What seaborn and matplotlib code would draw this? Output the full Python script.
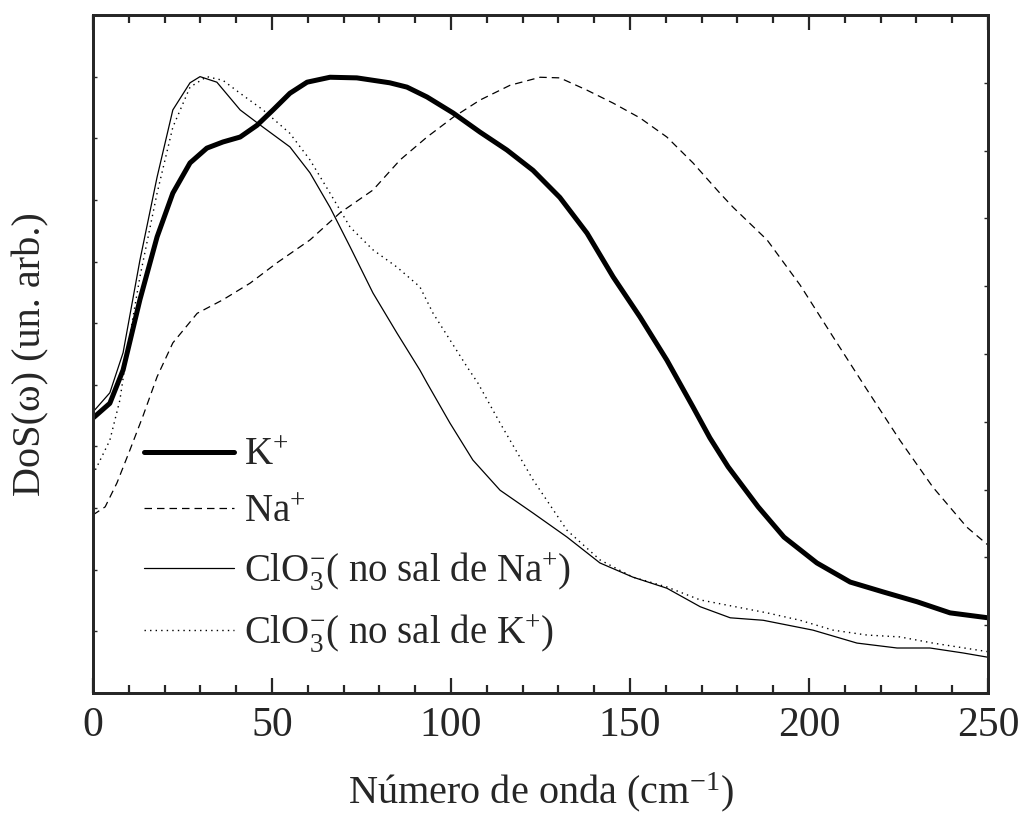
import matplotlib
matplotlib.use("Agg")
import matplotlib.pyplot as plt
import seaborn as sns
import numpy as np
from matplotlib.ticker import MultipleLocator, NullFormatter

# ---- data ----
k_x = [0, 4.7, 8.4, 13.1, 17.9, 22.3, 27.1, 31.8, 36.3, 41.1, 45.8, 50.3, 55.0, 59.8, 66.2, 73.7,
       82.9, 87.7, 93.3, 100.6, 108.1, 115.6, 122.9, 130.4, 138.0, 145.3, 152.8, 160.3, 167.6,
       172.3, 177.4, 185.8, 193.0, 202.2, 211.5, 220.7, 230.2, 239.4, 250]
k_y = [4.46, 4.70, 5.24, 6.38, 7.40, 8.11, 8.60, 8.84, 8.94, 9.02, 9.21, 9.46, 9.73, 9.91, 9.99, 9.98,
       9.90, 9.83, 9.67, 9.41, 9.10, 8.81, 8.48, 8.04, 7.46, 6.75, 6.10, 5.40, 4.64,
       4.14, 3.67, 3.02, 2.53, 2.11, 1.80, 1.64, 1.48, 1.30, 1.22]

na_x = [0, 3.4, 6.7, 10.3, 14.0, 17.9, 22.3, 29.1, 36.3, 43.9, 51.4, 60.6, 69.0, 78.2, 85.8, 93.3,
        100.6, 108.1, 116.5, 124.9, 130.4, 138.0, 145.3, 152.8, 160.3, 167.6, 175.1, 178.8, 188.3,
        197.5, 206.7, 216.2, 225.4, 234.6, 244.1, 250]
na_y = [2.89, 3.02, 3.41, 3.94, 4.50, 5.13, 5.68, 6.16, 6.38, 6.65, 6.98, 7.35, 7.79, 8.16, 8.65, 9.02,
        9.34, 9.62, 9.86, 9.99, 9.98, 9.78, 9.57, 9.33, 9.02, 8.60, 8.11, 7.88, 7.35,
        6.62, 5.78, 4.92, 4.10, 3.34, 2.69, 2.40]

clo3na_x = [0, 4.7, 8.4, 13.1, 17.9, 22.3, 27.1, 29.9, 34.6, 41.1, 47.5, 55.0, 60.6, 66.2, 71.8, 78.2,
            84.9, 91.3, 93.3, 99.7, 106.1, 113.7, 122.9, 132.4, 141.6, 150.8, 160.3, 169.6, 178.0,
            187.2, 201.1, 213.4, 224.6, 233.8, 243.0, 250]
clo3na_y = [4.56, 4.87, 5.52, 7.02, 8.37, 9.46, 9.90, 10.0, 9.91, 9.46, 9.18, 8.86, 8.44, 7.88, 7.24, 6.49,
            5.84, 5.24, 5.03, 4.38, 3.78, 3.29, 2.92, 2.53, 2.11, 1.88, 1.70, 1.40, 1.22,
            1.18, 1.02, 0.81, 0.73, 0.73, 0.65, 0.58]

clo3k_x = [0, 4.7, 7.5, 9.5, 13.1, 17.9, 22.3, 27.1, 31.8, 36.3, 41.1, 47.5, 55.0, 60.6, 66.2, 71.8,
           78.2, 84.9, 91.3, 95.0, 104.5, 107.5, 113.7, 122.9, 132.4, 141.6, 150.8, 160.3, 169.6,
           188.3, 197.5, 206.7, 216.2, 225.4, 234.6, 250]
clo3k_y = [3.54, 4.10, 4.75, 5.53, 6.75, 8.11, 9.18, 9.83, 10.0, 9.94, 9.73, 9.46, 9.08, 8.65, 8.11, 7.56,
           7.19, 6.91, 6.59, 6.16, 5.29, 5.03, 4.38, 3.46, 2.64, 2.16, 1.88, 1.72, 1.51,
           1.30, 1.18, 1.02, 0.94, 0.91, 0.81, 0.67]

labels = ["K$^{+}$", "Na$^{+}$", "ClO$_{3}^{-}$( no sal de Na$^{+}$)", "ClO$_{3}^{-}$( no sal de K$^{+}$)"]
x_ticks = [0, 50, 100, 150, 200, 250]

# ---- style ----
sns.set_style("ticks")
plt.rcParams["font.family"] = ["Liberation Serif", "DejaVu Serif"]
plt.rcParams["mathtext.fontset"] = "custom"
plt.rcParams["mathtext.rm"] = "Liberation Serif"
plt.rcParams["mathtext.it"] = "Liberation Serif:italic"
plt.rcParams["mathtext.bf"] = "Liberation Serif:bold"

fig = plt.figure(figsize=(10.2, 8.19), dpi=100)
ax = fig.add_axes([93 / 1020, 1 - 693 / 819, (988 - 93) / 1020, (693 - 15) / 819])

sns.lineplot(x=k_x, y=k_y, ax=ax, color="black", linewidth=3.6, label=labels[0], sort=False)
sns.lineplot(x=na_x, y=na_y, ax=ax, color="black", linewidth=0.9, label=labels[1], sort=False)
sns.lineplot(x=clo3na_x, y=clo3na_y, ax=ax, color="black", linewidth=0.9, label=labels[2], sort=False)
sns.lineplot(x=clo3k_x, y=clo3k_y, ax=ax, color="black", linewidth=1.0, label=labels[3], sort=False)
lines = ax.get_lines()
lines[1].set_dashes([6, 4])
lines[3].set_dashes([1, 3])

ax.set_xlim(0, 250)
ax.set_ylim(0, 11)
ax.set_xticks(x_ticks)
ax.set_xticklabels([str(t) for t in x_ticks])
ax.xaxis.set_minor_locator(MultipleLocator(10))
ax.yaxis.set_major_locator(MultipleLocator(1))
ax.yaxis.set_major_formatter(NullFormatter())

for s in ax.spines.values():
    s.set_linewidth(2.0)
    s.set_visible(True)

ax.tick_params(axis="x", which="major", direction="in", length=11, width=1.6, top=True,
               labelsize=30, pad=10)
ax.tick_params(axis="x", which="minor", direction="in", length=6, width=1.6, top=True)
ax.tick_params(axis="y", which="major", direction="in", length=3, width=1.0, left=True, right=False)

ax2 = ax.twinx()
ax2.set_ylim(0, 10)
ax2.yaxis.set_major_locator(MultipleLocator(1))
ax2.yaxis.set_major_formatter(NullFormatter())
ax2.tick_params(axis="y", direction="in", length=3, width=1.0)
for s in ax2.spines.values():
    s.set_linewidth(2.0)

ax.set_xlabel("Número de onda (cm$^{-1}$)", fontsize=29, labelpad=18)
ax.set_ylabel("DoS(ω) (un. arb.)", fontsize=29, labelpad=28)

leg = ax.legend(loc="upper left", bbox_to_anchor=(0.04, 0.40), frameon=False, fontsize=28,
                handlelength=2.3, handletextpad=0.25, labelspacing=0.5, borderaxespad=0)

fig.savefig("out.png", dpi=100)
